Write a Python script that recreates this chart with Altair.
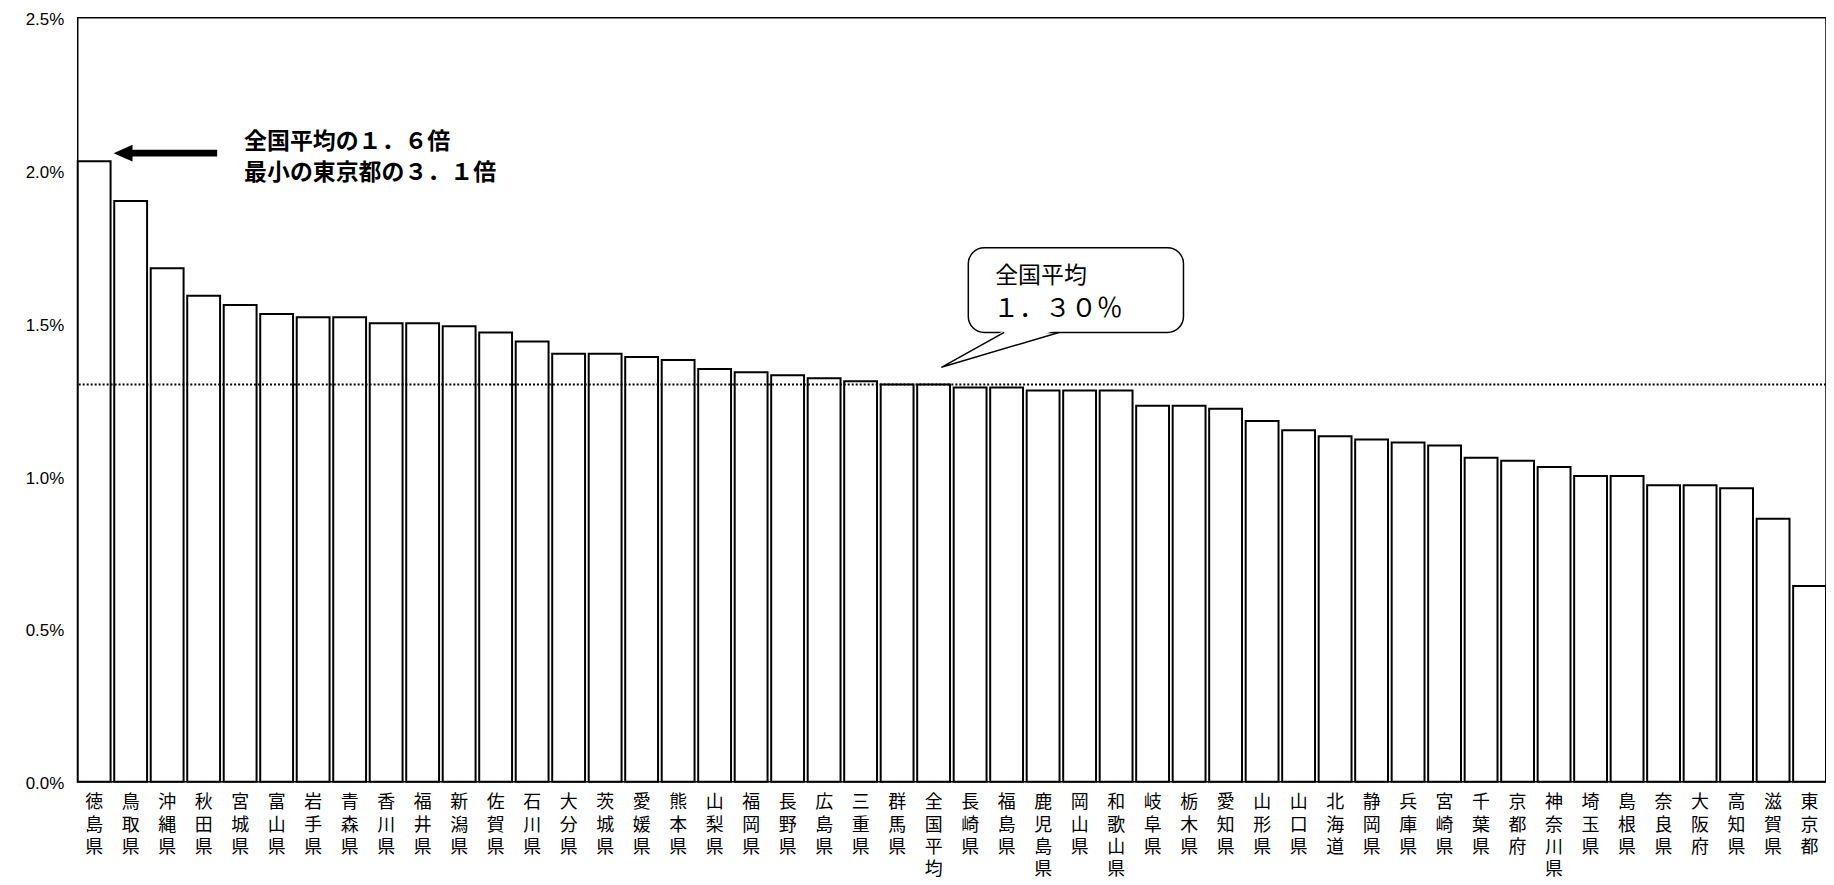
import altair as alt
import pandas as pd

# ---- data ----
prefectures = [
    "徳島県", "鳥取県", "沖縄県", "秋田県", "宮城県", "富山県", "岩手県", "青森県",
    "香川県", "福井県", "新潟県", "佐賀県", "石川県", "大分県", "茨城県", "愛媛県",
    "熊本県", "山梨県", "福岡県", "長野県", "広島県", "三重県", "群馬県", "全国平均",
    "長崎県", "福島県", "鹿児島県", "岡山県", "和歌山県", "岐阜県", "栃木県", "愛知県",
    "山形県", "山口県", "北海道", "静岡県", "兵庫県", "宮崎県", "千葉県", "京都府",
    "神奈川県", "埼玉県", "島根県", "奈良県", "大阪府", "高知県", "滋賀県", "東京都",
]
rates = [
    2.03, 1.90, 1.68, 1.59, 1.56, 1.53, 1.52, 1.52,
    1.50, 1.50, 1.49, 1.47, 1.44, 1.40, 1.40, 1.39,
    1.38, 1.35, 1.34, 1.33, 1.32, 1.31, 1.30, 1.30,
    1.29, 1.29, 1.28, 1.28, 1.28, 1.23, 1.23, 1.22,
    1.18, 1.15, 1.13, 1.12, 1.11, 1.10, 1.06, 1.05,
    1.03, 1.00, 1.00, 0.97, 0.97, 0.96, 0.86, 0.64,
]
national_average = [1.30]
y_ticks = [0.0, 0.5, 1.0, 1.5, 2.0, 2.5]
note_lines = ["全国平均の１．６倍", "最小の東京都の３．１倍"]
bubble_lines = ["全国平均", "１．３０％"]

df = pd.DataFrame({"pref": prefectures, "rate": rates})
avg_df = pd.DataFrame({"v": national_average})
one = pd.DataFrame({"k": [0]})

W, H = 1755, 767
CJK = "Noto Sans CJK JP"


def shape_path(points, cx, cy, s, close=True):
    parts = []
    for i, (px, py) in enumerate(points):
        parts.append(("M" if i == 0 else "L") + f" {(px - cx) / s:.4f} {(py - cy) / s:.4f}")
    return " ".join(parts) + (" Z" if close else "")


bars = alt.Chart(df).mark_bar(fill="white", stroke="black", strokeWidth=2).encode(
    x=alt.X(
        "pref:N",
        sort=None,
        scale=alt.Scale(paddingInner=0.1, paddingOuter=0),
        axis=alt.Axis(
            title=None,
            labelAngle=0,
            labelExpr="split(datum.label, '')",
            labelFont=CJK,
            labelFontSize=18,
            labelLineHeight=22.5,
            labelBaseline="top",
            labelPadding=12,
            labelColor="black",
            ticks=False,
            domain=False,
        ),
    ),
    y=alt.Y(
        "rate:Q",
        scale=alt.Scale(domain=[0, 2.5], nice=False),
        axis=alt.Axis(
            title=None,
            values=y_ticks,
            labelExpr="format(datum.value, '.1f') + '%'",
            labelFont="Liberation Sans",
            labelFontSize=17,
            labelColor="black",
            labelPadding=14,
            labelOffset=2,
            ticks=False,
            domain=False,
            grid=False,
        ),
    ),
)

avg_rule = alt.Chart(avg_df).mark_rule(
    color="black", strokeWidth=2, strokeDash=[2, 2]
).encode(y="v:Q")

# speech bubble (plot-area pixel coordinates)
bubble = alt.Chart(one).mark_rect(
    fill="white", stroke="black", strokeWidth=1.5, cornerRadius=16
).encode(x=alt.value(894), x2=alt.value(1110), y=alt.value(231), y2=alt.value(316))

tcx, tcy, ts = 926, 333, 60
tail_fill_path = shape_path([(931.5, 313), (984.5, 313), (867, 351)], tcx, tcy, ts)
tail_line_path = shape_path([(930, 316), (867, 351), (985, 316)], tcx, tcy, ts, close=False)

tail_fill = alt.Chart(one).mark_point(
    shape=tail_fill_path, size=(2 * ts) ** 2, filled=True, fill="white",
    strokeWidth=0, opacity=1,
).encode(x=alt.value(tcx), y=alt.value(tcy))

tail_line = alt.Chart(one).mark_point(
    shape=tail_line_path, size=(2 * ts) ** 2, filled=False, stroke="black",
    strokeWidth=1.5, opacity=1,
).encode(x=alt.value(tcx), y=alt.value(tcy))

bubble_t1 = alt.Chart(one).mark_text(
    text=bubble_lines[0], font=CJK, fontSize=23, align="left", baseline="middle", color="black"
).encode(x=alt.value(921), y=alt.value(259))
bubble_t2 = alt.Chart(one).mark_text(
    text=bubble_lines[1], font=CJK, fontSize=26, align="left", baseline="middle", color="black"
).encode(x=alt.value(919), y=alt.value(293))

# arrow pointing to the first bar
acx, acy, as_ = 88, 136, 52
arrow_path = shape_path(
    [(36, 136), (55, 127.5), (55, 132.5), (140, 132.5), (140, 139.5), (55, 139.5), (55, 144.5)],
    acx, acy, as_,
)
arrow = alt.Chart(one).mark_point(
    shape=arrow_path, size=(2 * as_) ** 2, filled=True, fill="black", strokeWidth=0, opacity=1
).encode(x=alt.value(acx), y=alt.value(acy))

note1 = alt.Chart(one).mark_text(
    text=note_lines[0], font=CJK, fontSize=23, fontWeight="bold", align="left",
    baseline="middle", color="black",
).encode(x=alt.value(167), y=alt.value(125))
note2 = alt.Chart(one).mark_text(
    text=note_lines[1], font=CJK, fontSize=23, fontWeight="bold", align="left",
    baseline="middle", color="black",
).encode(x=alt.value(167), y=alt.value(156))

chart = alt.layer(
    bars, avg_rule, bubble, tail_fill, tail_line, bubble_t1, bubble_t2, arrow, note1, note2
).properties(
    width=W,
    height=H,
    autosize=alt.AutoSizeParams(type="none"),
    padding={"left": 70, "top": 8, "right": 0, "bottom": 100},
    background="white",
).configure_view(
    stroke="black", strokeWidth=1.5
)

chart.save("out.html", embed_options={"renderer": "svg", "actions": False})
